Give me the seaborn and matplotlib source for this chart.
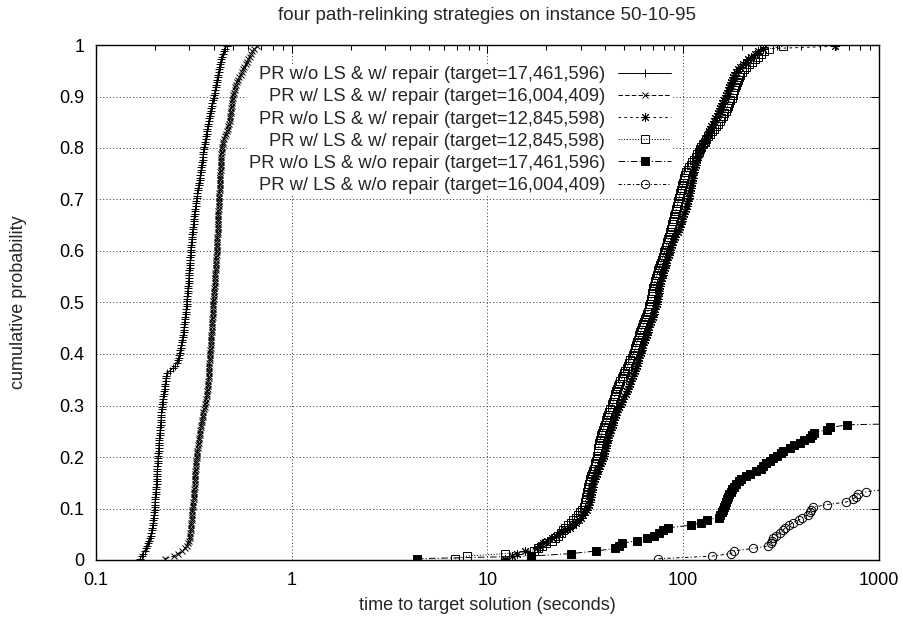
import numpy as np
import pandas as pd
import matplotlib
matplotlib.use("Agg")
import matplotlib.pyplot as plt
import matplotlib.ticker as mticker
import seaborn as sns

# estilo base
sns.set_style("white")
plt.rcParams['font.family'] = ['Liberation Sans', 'DejaVu Sans']
plt.rcParams['lines.scale_dashes'] = False

# ---------------------------
# Datos: tiempos (segundos), 200 corridas por estrategia
# ---------------------------
n_runs = 200

labels = [
    "PR w/o LS & w/ repair (target=17,461,596)",
    "PR w/ LS & w/ repair (target=16,004,409)",
    "PR w/o LS & w/ repair (target=12,845,598)",
    "PR w/ LS & w/ repair (target=12,845,598)",
    "PR w/o LS & w/o repair (target=17,461,596)",
    "PR w/ LS & w/o repair (target=16,004,409)",
]

t_nols_rep_17 = [
    0.168, 0.171, 0.174, 0.177, 0.180, 0.182, 0.184, 0.186, 0.188, 0.190,
    0.192, 0.193, 0.194, 0.195, 0.196, 0.196, 0.197, 0.198, 0.198, 0.199,
    0.199, 0.200, 0.200, 0.201, 0.201, 0.202, 0.202, 0.203, 0.203, 0.204,
    0.204, 0.204, 0.205, 0.205, 0.206, 0.206, 0.206, 0.207, 0.207, 0.208,
    0.208, 0.208, 0.209, 0.209, 0.210, 0.210, 0.211, 0.211, 0.212, 0.212,
    0.213, 0.213, 0.214, 0.214, 0.215, 0.215, 0.216, 0.216, 0.217, 0.218,
    0.218, 0.219, 0.220, 0.221, 0.222, 0.223, 0.224, 0.225, 0.226, 0.227,
    0.228, 0.229, 0.231, 0.238, 0.248, 0.254, 0.258, 0.261, 0.264, 0.267,
    0.269, 0.270, 0.272, 0.273, 0.275, 0.276, 0.277, 0.279, 0.280, 0.281,
    0.282, 0.283, 0.284, 0.285, 0.286, 0.287, 0.288, 0.289, 0.290, 0.291,
    0.291, 0.292, 0.293, 0.294, 0.294, 0.295, 0.296, 0.297, 0.297, 0.298,
    0.299, 0.299, 0.300, 0.301, 0.301, 0.302, 0.303, 0.303, 0.304, 0.305,
    0.305, 0.306, 0.307, 0.308, 0.309, 0.310, 0.311, 0.312, 0.313, 0.314,
    0.315, 0.316, 0.317, 0.318, 0.319, 0.320, 0.322, 0.323, 0.325, 0.326,
    0.327, 0.329, 0.330, 0.332, 0.333, 0.335, 0.336, 0.338, 0.339, 0.341,
    0.342, 0.344, 0.345, 0.347, 0.348, 0.350, 0.351, 0.353, 0.354, 0.356,
    0.357, 0.359, 0.361, 0.363, 0.365, 0.367, 0.369, 0.371, 0.373, 0.375,
    0.377, 0.379, 0.381, 0.383, 0.385, 0.388, 0.390, 0.393, 0.396, 0.399,
    0.401, 0.404, 0.406, 0.408, 0.410, 0.413, 0.415, 0.418, 0.420, 0.423,
    0.425, 0.428, 0.431, 0.434, 0.437, 0.441, 0.445, 0.450, 0.456, 0.465,
]

t_ls_rep_16 = [
    0.225, 0.250, 0.262, 0.275, 0.285, 0.292, 0.296, 0.299, 0.301, 0.302,
    0.303, 0.304, 0.305, 0.306, 0.307, 0.308, 0.309, 0.310, 0.311, 0.311,
    0.312, 0.313, 0.314, 0.315, 0.316, 0.317, 0.317, 0.318, 0.319, 0.319,
    0.320, 0.320, 0.321, 0.322, 0.322, 0.323, 0.324, 0.325, 0.326, 0.327,
    0.328, 0.329, 0.330, 0.331, 0.333, 0.334, 0.335, 0.337, 0.338, 0.340,
    0.341, 0.343, 0.344, 0.346, 0.348, 0.350, 0.352, 0.354, 0.357, 0.360,
    0.361, 0.363, 0.365, 0.367, 0.369, 0.370, 0.372, 0.373, 0.374, 0.375,
    0.376, 0.377, 0.378, 0.378, 0.379, 0.380, 0.380, 0.381, 0.381, 0.382,
    0.383, 0.384, 0.385, 0.386, 0.387, 0.387, 0.388, 0.389, 0.390, 0.391,
    0.391, 0.392, 0.393, 0.393, 0.394, 0.395, 0.395, 0.396, 0.397, 0.397,
    0.398, 0.399, 0.400, 0.401, 0.402, 0.403, 0.404, 0.404, 0.405, 0.406,
    0.406, 0.407, 0.408, 0.409, 0.410, 0.410, 0.411, 0.412, 0.413, 0.414,
    0.414, 0.415, 0.415, 0.416, 0.417, 0.417, 0.418, 0.418, 0.419, 0.419,
    0.420, 0.420, 0.421, 0.421, 0.422, 0.422, 0.423, 0.424, 0.424, 0.425,
    0.426, 0.426, 0.427, 0.428, 0.428, 0.429, 0.430, 0.430, 0.431, 0.432,
    0.432, 0.433, 0.434, 0.434, 0.435, 0.436, 0.436, 0.437, 0.438, 0.439,
    0.441, 0.443, 0.446, 0.450, 0.455, 0.460, 0.466, 0.470, 0.474, 0.478,
    0.481, 0.484, 0.486, 0.488, 0.490, 0.492, 0.494, 0.496, 0.498, 0.500,
    0.503, 0.506, 0.510, 0.515, 0.520, 0.526, 0.532, 0.540, 0.548, 0.556,
    0.565, 0.573, 0.582, 0.592, 0.601, 0.610, 0.620, 0.630, 0.645, 0.663,
]

t_nols_rep_12 = [
    12.3, 13.3, 14.2, 15.5, 17.9, 18.6, 19.2, 20.2, 21.3, 22.3,
    23.5, 25.0, 26.3, 27.4, 28.4, 29.3, 30.1, 30.9, 31.6, 32.3,
    32.8, 33.1, 33.3, 33.5, 33.7, 33.9, 34.1, 34.3, 34.5, 34.7,
    34.9, 35.3, 35.7, 36.1, 36.5, 36.9, 37.4, 37.9, 38.4, 38.9,
    39.3, 39.6, 39.9, 40.2, 40.5, 40.8, 41.1, 41.5, 41.9, 42.3,
    42.7, 43.1, 43.6, 44.0, 44.5, 45.0, 45.5, 46.0, 46.6, 47.2,
    47.9, 48.6, 49.3, 50.0, 50.7, 51.4, 52.1, 52.8, 53.6, 54.4,
    55.0, 55.6, 56.2, 56.8, 57.3, 57.8, 58.4, 59.0, 59.6, 60.1,
    60.7, 61.3, 61.9, 62.5, 63.1, 63.7, 64.3, 65.0, 65.7, 66.4,
    67.1, 67.8, 68.5, 69.2, 69.9, 70.6, 71.3, 72.0, 72.6, 73.2,
    73.6, 74.0, 74.4, 74.8, 75.2, 75.6, 76.0, 76.5, 77.1, 77.8,
    78.5, 79.2, 79.9, 80.6, 81.3, 82.0, 82.7, 83.5, 84.3, 85.1,
    86.0, 87.0, 88.0, 89.0, 90.1, 91.2, 92.3, 93.5, 94.7, 95.9,
    97.0, 98.0, 99.0, 100.0, 101.0, 102.0, 103.0, 104.0, 105.0, 106.0,
    106.7, 107.3, 107.9, 108.5, 109.1, 109.7, 110.3, 111.0, 111.7, 112.4,
    113.1, 113.8, 114.6, 115.6, 116.8, 118.0, 119.4, 120.8, 122.2, 123.7,
    125.2, 126.8, 128.4, 130.0, 131.7, 133.4, 135.2, 137.2, 139.4, 141.8,
    144.0, 146.0, 148.0, 150.0, 152.0, 154.0, 156.0, 158.2, 160.6, 163.0,
    165.0, 167.0, 169.0, 171.0, 173.0, 175.0, 177.0, 179.5, 182.5, 186.0,
    190.0, 195.0, 201.0, 208.0, 215.0, 223.0, 232.0, 242.0, 255.0, 597.0,
]

t_ls_rep_12 = [
    6.83, 7.84, 12.3, 17.2, 18.2, 19.0, 19.8, 21.3, 22.2, 23.0,
    23.8, 24.4, 25.0, 25.8, 26.6, 27.4, 28.2, 29.0, 29.7, 30.4,
    31.0, 31.3, 31.6, 31.8, 32.0, 32.2, 32.4, 32.6, 32.8, 33.0,
    33.2, 33.5, 33.9, 34.3, 34.7, 35.0, 35.3, 35.6, 35.9, 36.1,
    36.3, 36.5, 36.7, 36.9, 37.1, 37.3, 37.6, 37.9, 38.2, 38.5,
    38.9, 39.3, 39.7, 40.1, 40.5, 40.9, 41.4, 41.9, 42.4, 43.0,
    43.4, 43.8, 44.2, 44.6, 45.0, 45.5, 46.0, 46.5, 47.1, 47.7,
    48.4, 49.1, 49.8, 50.5, 51.3, 52.1, 52.9, 53.7, 54.5, 55.3,
    55.9, 56.4, 56.9, 57.4, 57.9, 58.5, 59.1, 59.7, 60.4, 61.1,
    61.8, 62.5, 63.2, 63.9, 64.6, 65.2, 65.9, 66.5, 67.1, 67.7,
    68.2, 68.6, 69.0, 69.4, 69.9, 70.4, 70.9, 71.4, 71.9, 72.6,
    73.3, 74.0, 74.7, 75.4, 76.1, 76.9, 77.7, 78.5, 79.3, 80.1,
    80.9, 81.6, 82.3, 83.0, 83.7, 84.4, 85.1, 85.8, 86.6, 87.4,
    88.1, 88.8, 89.5, 90.2, 90.9, 91.6, 92.3, 93.0, 93.7, 94.4,
    95.1, 95.8, 96.5, 97.3, 98.1, 98.9, 99.7, 100.5, 101.3, 102.0,
    103.5, 105.2, 107.0, 109.0, 111.0, 113.2, 115.5, 117.8, 120.0, 121.8,
    123.8, 126.0, 128.5, 131.2, 134.0, 137.0, 140.2, 143.5, 147.0, 150.8,
    154.0, 156.8, 159.5, 162.0, 164.5, 167.0, 169.5, 172.0, 174.3, 176.5,
    178.5, 180.5, 182.5, 184.5, 186.5, 188.5, 190.5, 193.0, 196.0, 199.5,
    204.0, 210.0, 217.0, 225.0, 233.0, 241.0, 250.0, 260.0, 275.0, 323.0,
]

# solo las corridas que terminaron cerca del rango (la ultima queda fuera)
t_nols_norep_17 = [
    4.35, 16.6, 26.7, 35.9, 44.9, 47.0, 48.5, 58.3, 65.0, 71.0,
    75.0, 79.2, 83.2, 109.4, 123.0, 132.0, 151.4, 154.0, 157.0, 159.0,
    162.0, 164.0, 166.0, 168.0, 170.0, 172.0, 174.5, 177.0, 182.0, 187.0,
    192.0, 198.0, 208.0, 220.0, 235.0, 250.0, 256.0, 264.0, 276.0, 289.0,
    300.0, 314.0, 322.0, 350.0, 370.0, 395.0, 412.0, 442.0, 455.0, 465.0,
    540.0, 565.0, 690.0, 3000.0,
]

t_ls_norep_16 = [
    74.7, 140.0, 176.0, 181.0, 228.0, 272.0, 280.0, 283.0, 288.0, 296.0,
    312.0, 322.0, 332.0, 348.0, 362.0, 390.0, 405.0, 432.0, 442.0, 450.0,
    462.0, 540.0, 680.0, 735.0, 760.0, 780.0, 862.0, 1100.0,
]

series_times = [t_nols_rep_17, t_ls_rep_16, t_nols_rep_12,
                t_ls_rep_12, t_nols_norep_17, t_ls_norep_16]

# estilos tipo gnuplot (marcador, tamano, linea, relleno)
estilos = [
    dict(marker='+', markersize=6.0, linestyle='-', markerfacecolor='black'),
    dict(marker='x', markersize=5.0, linestyle=(0, (3.2, 1.6)), markerfacecolor='black'),
    dict(marker=(8, 2, 0), markersize=6.5, linestyle=(0, (1.8, 2.4)), markerfacecolor='black'),
    dict(marker='s', markersize=6.0, linestyle=(0, (0.8, 1.2)), markerfacecolor='none'),
    dict(marker='s', markersize=6.3, linestyle=(0, (4.8, 1.6, 0.8, 1.6)), markerfacecolor='black'),
    dict(marker='o', markersize=6.0, linestyle=(0, (2.4, 1.6, 0.8, 1.6)), markerfacecolor='none'),
]


def ttt_frame(times):
    """Tabla tiempo / probabilidad acumulada empirica."""
    t = np.sort(np.asarray(times, dtype=float))
    prob = (np.arange(len(t)) + 0.5) / n_runs
    return pd.DataFrame({'time': t, 'prob': prob})


fig = plt.figure(figsize=(9.04, 6.22), dpi=100)
ax = fig.add_axes([96 / 904, 62 / 622, 783 / 904, 515 / 622])

for label, times, est in zip(labels, series_times, estilos):
    df = ttt_frame(times)
    sns.lineplot(data=df, x='time', y='prob', ax=ax, color='black',
                 linewidth=0.7, markeredgecolor='black', markeredgewidth=0.7,
                 estimator=None, sort=False, legend=False, label=label, **est)

ax.set_xscale('log')
ax.set_xlim(0.1, 1000)
ax.set_ylim(0, 1)

ax.xaxis.set_major_locator(mticker.LogLocator(base=10, numticks=10))
ax.xaxis.set_minor_locator(mticker.LogLocator(base=10, subs=np.arange(2, 10), numticks=20))
ax.xaxis.set_major_formatter(mticker.FormatStrFormatter('%g'))
ax.xaxis.set_minor_formatter(mticker.NullFormatter())
ax.yaxis.set_major_locator(mticker.MultipleLocator(0.1))
ax.yaxis.set_major_formatter(mticker.FormatStrFormatter('%g'))

ax.tick_params(which='both', direction='in', top=True, right=True,
               width=0.75, colors='black', labelsize=13)
ax.tick_params(which='major', length=5.8, pad=8.5)
ax.tick_params(which='minor', length=3.6)

for sp in ax.spines.values():
    sp.set_linewidth(1.0)
    sp.set_color('black')

ax.set_axisbelow(True)
ax.grid(True, which='major', color='#444444', linestyle=(0, (0.8, 1.6)), linewidth=0.7)

ax.set_title("four path-relinking strategies on instance 50-10-95", fontsize=13.5, pad=18)
ax.set_xlabel("time to target solution (seconds)", fontsize=13)
ax.set_ylabel("cumulative probability", fontsize=13)
ax.xaxis.set_label_coords(0.5, (560 - 597) / 515)
ax.yaxis.set_label_coords((27 - 96) / 783, 0.5)

leg = ax.legend(loc='upper right', bbox_to_anchor=((673 - 96) / 783, (560 - 64.5) / 515),
                markerfirst=False, frameon=True, fancybox=False, framealpha=1,
                edgecolor='none', facecolor='white', handlelength=2.9,
                handletextpad=0.7, labelspacing=0.28, borderpad=0.1,
                borderaxespad=0, numpoints=1, fontsize=13.2)
leg.set_zorder(1)

plt.savefig('out.png', dpi=100)
plt.close()
